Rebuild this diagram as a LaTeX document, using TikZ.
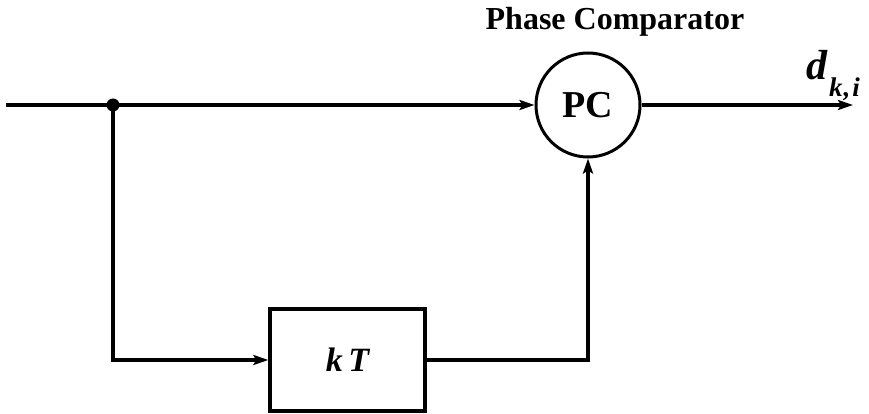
\documentclass[tikz,border=0pt]{standalone}
\usepackage{fontspec}
\setmainfont{Liberation Serif}
\usetikzlibrary{arrows.meta}
\begin{document}
\begin{tikzpicture}[x=1pt,y=-1pt,
  wire/.style={line width=3.2pt},
  arr/.style={wire,-{Stealth[length=15pt,width=10pt,inset=3pt]}},
  pcnode/.style={circle,draw,line width=3pt,minimum size=104pt,inner sep=0pt,
    font=\fontsize{38}{38}\selectfont\bfseries},
  delaybox/.style={rectangle,draw,line width=3.4pt,minimum width=155pt,minimum height=102pt,inner sep=0pt,
    font=\fontsize{34}{34}\selectfont\bfseries\itshape},
  lab/.style={inner sep=0pt,font=\fontsize{32}{32}\selectfont\bfseries}]
\useasboundingbox (0,0) rectangle (869,414);
\coordinate (in) at (6,105);
\coordinate (tap) at (113,105);
\node[pcnode] (pc) at (588,105) {PC};
\coordinate (out) at (853,105);
\node[delaybox] (kt) at (347.5,360) {k\,T};
\coordinate (bl) at (113,360);
\coordinate (br) at (588,360);
\node[lab] (title) at (615,22) {Phase Comparator};
\node[inner sep=0pt,anchor=base west] (dk) at (806,80)
  {\fontsize{42}{42}\selectfont\bfseries\itshape d\kern2pt\raisebox{-17pt}{\fontsize{27}{27}\selectfont k\kern1pt,\kern2pt i}};
\draw[wire] (in) -- (tap);
\draw[arr] (tap) -- (pc.west);
\fill (tap) circle (6.5);
\draw[arr] (tap) -- (bl) -- (kt.west);
\draw[arr] (kt.east) -- (br) -- (pc.south);
\draw[arr] (pc.east) -- (out);
\end{tikzpicture}
\end{document}
